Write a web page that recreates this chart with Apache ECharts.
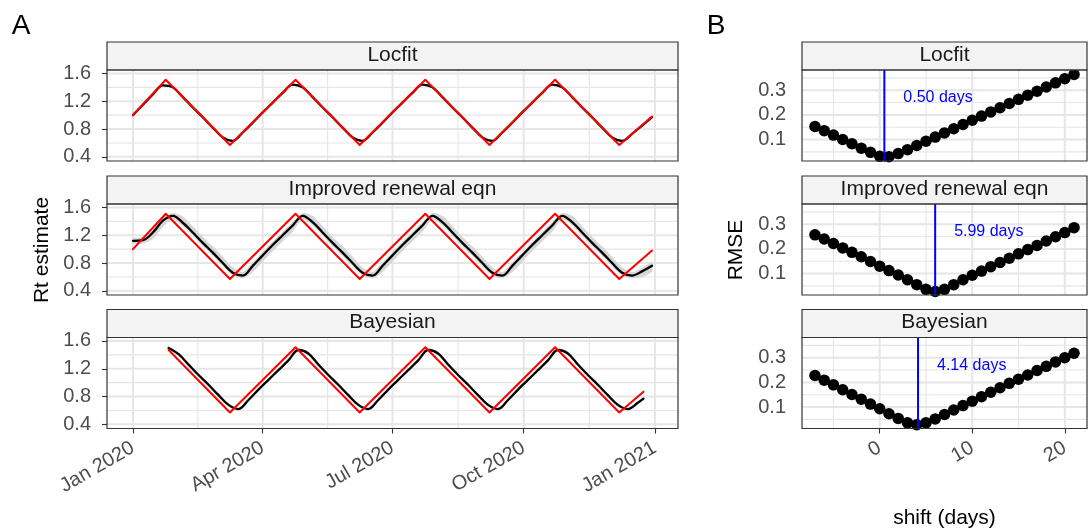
<!DOCTYPE html>
<html>
<head>
<meta charset="utf-8">
<script src="https://cdn.jsdelivr.net/npm/echarts@6/dist/echarts.min.js"></script>
<style>
  html, body { margin: 0; padding: 0; background: #ffffff; }
  #chart { width: 1088px; height: 530px; }
</style>
</head>
<body>
<div id="chart"></div>
<script>
// ---------------- data ----------------
const methods = ['Locfit', 'Improved renewal eqn', 'Bayesian'];

// x-axis breaks of the Rt panels
const quarterTicks = ['2020-01-01', '2020-04-01', '2020-07-01', '2020-10-01', '2021-01-01'];
const quarterLabels = ['Jan 2020', 'Apr 2020', 'Jul 2020', 'Oct 2020', 'Jan 2021'];
const rtTicks = [0.4, 0.8, 1.2, 1.6];

// true Rt (piecewise linear)
const truthDates = ['2020-01-01', '2020-01-24', '2020-03-09', '2020-04-24', '2020-06-08',
                    '2020-07-24', '2020-09-07', '2020-10-23', '2020-12-07', '2020-12-30'];
const truthValues = [1.00, 1.51, 0.57, 1.51, 0.57, 1.51, 0.57, 1.51, 0.57, 0.98];
const truthBayesDates = ['2020-01-26', '2020-03-09', '2020-04-24', '2020-06-08',
                         '2020-07-24', '2020-09-07', '2020-10-23', '2020-12-07', '2020-12-24'];
const truthBayesValues = [1.47, 0.57, 1.51, 0.57, 1.51, 0.57, 1.51, 0.57, 0.87];

// weekly estimates, first report on 2020-01-01
const weeklyStart = '2020-01-01';
const locfitRt = [1.00, 1.15, 1.30, 1.43, 1.40, 1.26, 1.11, 0.97, 0.82, 0.68, 0.63, 0.75, 0.89, 1.04,
                  1.18, 1.32, 1.44, 1.40, 1.26, 1.11, 0.97, 0.82, 0.68, 0.63, 0.75, 0.89, 1.04,
                  1.18, 1.32, 1.44, 1.40, 1.26, 1.11, 0.97, 0.82, 0.68, 0.63, 0.75, 0.89, 1.04,
                  1.18, 1.32, 1.44, 1.40, 1.26, 1.11, 0.97, 0.82, 0.68, 0.63, 0.73, 0.85, 0.97];
const renewalRt = [1.12, 1.13, 1.24, 1.41, 1.48, 1.38, 1.24, 1.09, 0.95, 0.80, 0.66, 0.62, 0.76, 0.91,
                   1.06, 1.20, 1.34, 1.48, 1.39, 1.24, 1.09, 0.95, 0.80, 0.66, 0.62, 0.76, 0.91,
                   1.06, 1.20, 1.34, 1.48, 1.39, 1.24, 1.09, 0.95, 0.80, 0.66, 0.62, 0.76, 0.91,
                   1.06, 1.20, 1.34, 1.48, 1.39, 1.24, 1.09, 0.95, 0.80, 0.66, 0.62, 0.68, 0.76];
const renewalLower = [1.08, 1.08, 1.15, 1.32, 1.43, 1.33, 1.19, 1.04, 0.90, 0.75, 0.62, 0.58, 0.67, 0.82,
                      0.97, 1.11, 1.25, 1.43, 1.34, 1.19, 1.04, 0.90, 0.75, 0.62, 0.58, 0.67, 0.82,
                      0.97, 1.11, 1.25, 1.43, 1.34, 1.19, 1.04, 0.90, 0.75, 0.62, 0.58, 0.67, 0.82,
                      0.97, 1.11, 1.25, 1.43, 1.34, 1.19, 1.04, 0.90, 0.75, 0.62, 0.58, 0.60, 0.68];
const renewalUpper = [1.16, 1.17, 1.29, 1.46, 1.52, 1.47, 1.33, 1.18, 1.04, 0.89, 0.74, 0.67, 0.81, 0.96,
                      1.11, 1.25, 1.39, 1.52, 1.48, 1.33, 1.18, 1.04, 0.89, 0.74, 0.67, 0.81, 0.96,
                      1.11, 1.25, 1.39, 1.52, 1.48, 1.33, 1.18, 1.04, 0.89, 0.74, 0.67, 0.81, 0.96,
                      1.11, 1.25, 1.39, 1.52, 1.48, 1.33, 1.18, 1.04, 0.89, 0.74, 0.67, 0.73, 0.81];

// Bayesian estimates: weekly from 2020-01-26, last one on 2020-12-24
const bayesStart = '2020-01-26';
const bayesEnd = '2020-12-24';
const bayesRt = [1.50, 1.41, 1.26, 1.11, 0.97, 0.82, 0.68, 0.62, 0.75, 0.90,
                 1.04, 1.18, 1.32, 1.47, 1.42, 1.26, 1.11, 0.97, 0.82, 0.68,
                 0.62, 0.75, 0.90, 1.04, 1.18, 1.32, 1.47, 1.42, 1.26, 1.11,
                 0.97, 0.82, 0.68, 0.62, 0.75, 0.90, 1.04, 1.18, 1.32, 1.47,
                 1.42, 1.26, 1.11, 0.97, 0.82, 0.68, 0.62, 0.71, 0.77];
const bayesLower = [1.48, 1.39, 1.24, 1.09, 0.95, 0.80, 0.66, 0.60, 0.73, 0.88,
                    1.02, 1.16, 1.30, 1.45, 1.40, 1.24, 1.09, 0.95, 0.80, 0.66,
                    0.60, 0.73, 0.88, 1.02, 1.16, 1.30, 1.45, 1.40, 1.24, 1.09,
                    0.95, 0.80, 0.66, 0.60, 0.73, 0.88, 1.02, 1.16, 1.30, 1.45,
                    1.40, 1.24, 1.09, 0.95, 0.80, 0.66, 0.60, 0.69, 0.75];
const bayesUpper = [1.52, 1.43, 1.28, 1.13, 0.99, 0.84, 0.70, 0.64, 0.77, 0.92,
                    1.06, 1.20, 1.34, 1.49, 1.44, 1.28, 1.13, 0.99, 0.84, 0.70,
                    0.64, 0.77, 0.92, 1.06, 1.20, 1.34, 1.49, 1.44, 1.28, 1.13,
                    0.99, 0.84, 0.70, 0.64, 0.77, 0.92, 1.06, 1.20, 1.34, 1.49,
                    1.44, 1.28, 1.13, 0.99, 0.84, 0.70, 0.64, 0.73, 0.79];

// RMSE against the truth for each shift of the estimate
const shiftDays = [-7, -6, -5, -4, -3, -2, -1, 0, 1, 2, 3, 4, 5, 6, 7,
                   8, 9, 10, 11, 12, 13, 14, 15, 16, 17, 18, 19, 20, 21];
const rmseLocfit = [0.153, 0.136, 0.118, 0.100, 0.083, 0.065, 0.048, 0.032, 0.030, 0.043, 0.059, 0.076, 0.093, 0.110, 0.127,
                    0.144, 0.161, 0.178, 0.195, 0.212, 0.229, 0.246, 0.263, 0.280, 0.296, 0.313, 0.330, 0.347, 0.364];
const rmseRenewal = [0.257, 0.240, 0.222, 0.204, 0.186, 0.168, 0.149, 0.130, 0.112, 0.094, 0.075, 0.055, 0.036, 0.027, 0.036,
                     0.055, 0.075, 0.093, 0.110, 0.128, 0.145, 0.162, 0.180, 0.197, 0.214, 0.232, 0.249, 0.266, 0.286];
const rmseBayes = [0.228, 0.209, 0.190, 0.170, 0.151, 0.132, 0.112, 0.093, 0.073, 0.054, 0.036, 0.028, 0.036, 0.052, 0.070,
                   0.088, 0.106, 0.124, 0.142, 0.160, 0.178, 0.196, 0.213, 0.230, 0.248, 0.265, 0.283, 0.300, 0.318];
const bestShift = [0.50, 5.99, 4.14];
const shiftTicks = [0, 10, 20];
const rmseTicks = [0.1, 0.2, 0.3];

// ---------------- helpers ----------------
const ts = s => { const [y, m, d] = s.split('-').map(Number); return new Date(y, m - 1, d).getTime(); };
const weekly = (start, n) => {
  const [y, m, d] = start.split('-').map(Number);
  return Array.from({ length: n }, (_, i) => new Date(y, m - 1, d + 7 * i).getTime());
};
const zip = (xs, ys) => xs.map((x, i) => [x, ys[i]]);

const weekDates = weekly(weeklyStart, locfitRt.length);
const bayesDates = weekly(bayesStart, bayesRt.length - 1).concat([ts(bayesEnd)]);
const quarterTs = quarterTicks.map(ts);
const quarterMinor = quarterTs.slice(1).map((t, i) => (t + quarterTs[i]) / 2);
const labelOfQuarter = new Map(quarterTs.map((t, i) => [t, quarterLabels[i]]));

// axis ranges (5% padding around the data, ggplot style)
const dataStart = ts(truthDates[0]);
const dataEnd = ts(truthDates[truthDates.length - 1]);
const padX = (dataEnd - dataStart) * 0.05;
const timeMin = dataStart - padX, timeMax = dataEnd + padX;
const rtMin = 0.34, rtMax = 1.65;
const shiftMin = -8.4, shiftMax = 22.4;
const rmseMin = 0.013, rmseMax = 0.382;
const rtMinor = [0.6, 1.0, 1.4];
const shiftMinor = [-5, 5, 15];
const rmseMinor = [0.05, 0.15, 0.25, 0.35];

// ---------------- layout ----------------
const FONT = '"Liberation Sans", Arial, Helvetica, sans-serif';
const GRID_COLOR = '#E6E6E6';
const leftX = 107, leftW = 571;
const rightX = 802, rightW = 285;
const stripH = 28, panelH = 91;
const stripTops = [42, 176, 309.5];
const panelTops = stripTops.map(t => t + stripH);

const grids = [];
panelTops.forEach(t => grids.push({ left: leftX, top: t, width: leftW, height: panelH, containLabel: false, outerBoundsMode: 'none' }));
panelTops.forEach(t => grids.push({ left: rightX, top: t, width: rightW, height: panelH, containLabel: false, outerBoundsMode: 'none' }));

const tickStyle = { show: true, length: 5, lineStyle: { color: '#333333', width: 1.1 } };
const labelBase = { color: '#4D4D4D', fontSize: 20, fontFamily: FONT };

// dates are plotted as millisecond values on a numeric axis, labelled at the quarter breaks
const xAxes = [], yAxes = [];
for (let r = 0; r < 3; r++) {
  const bottom = r === 2;
  xAxes.push({
    type: 'value', gridIndex: r, min: timeMin, max: timeMax, scale: true,
    axisLine: { show: false }, splitLine: { show: false },
    axisTick: Object.assign({}, tickStyle, { show: bottom, customValues: quarterTs }),
    axisLabel: Object.assign({}, labelBase, {
      show: bottom, rotate: 30, margin: 18, customValues: quarterTs,
      formatter: v => labelOfQuarter.get(v) || ''
    })
  });
  yAxes.push({
    type: 'value', gridIndex: r, min: rtMin, max: rtMax,
    axisLine: { show: false }, splitLine: { show: false },
    axisTick: Object.assign({}, tickStyle, { customValues: rtTicks }),
    axisLabel: Object.assign({}, labelBase, { margin: 16, customValues: rtTicks, formatter: v => v.toFixed(1) })
  });
}
for (let r = 0; r < 3; r++) {
  const bottom = r === 2;
  xAxes.push({
    type: 'value', gridIndex: 3 + r, min: shiftMin, max: shiftMax,
    axisLine: { show: false }, splitLine: { show: false },
    axisTick: Object.assign({}, tickStyle, { show: bottom, customValues: shiftTicks }),
    axisLabel: Object.assign({}, labelBase, { show: bottom, rotate: 30, margin: 18, customValues: shiftTicks, formatter: v => String(v) })
  });
  yAxes.push({
    type: 'value', gridIndex: 3 + r, min: rmseMin, max: rmseMax,
    axisLine: { show: false }, splitLine: { show: false },
    axisTick: Object.assign({}, tickStyle, { customValues: rmseTicks }),
    axisLabel: Object.assign({}, labelBase, { margin: 16, customValues: rmseTicks, formatter: v => v.toFixed(1) })
  });
}

// panel grid lines, drawn through the axis scales
function gridLayer(idx, xMajor, xMinor, yMajor, yMinor, anchor) {
  return {
    type: 'custom', xAxisIndex: idx, yAxisIndex: idx, z: 1, silent: true,
    data: [anchor],
    renderItem(params, api) {
      const cs = params.coordSys;
      const kids = [];
      const v = (val, w) => {
        const x = api.coord([val, anchor[1]])[0];
        kids.push({ type: 'line', shape: { x1: x, y1: cs.y, x2: x, y2: cs.y + cs.height }, style: { stroke: GRID_COLOR, lineWidth: w } });
      };
      const h = (val, w) => {
        const y = api.coord([anchor[0], val])[1];
        kids.push({ type: 'line', shape: { x1: cs.x, y1: y, x2: cs.x + cs.width, y2: y }, style: { stroke: GRID_COLOR, lineWidth: w } });
      };
      xMinor.forEach(a => v(a, 1.1));
      yMinor.forEach(a => h(a, 1.1));
      xMajor.forEach(a => v(a, 2));
      yMajor.forEach(a => h(a, 2));
      return { type: 'group', children: kids };
    }
  };
}

// uncertainty band as a filled polygon
function ribbon(idx, dates, lo, hi) {
  return {
    type: 'custom', xAxisIndex: idx, yAxisIndex: idx, z: 2, silent: true,
    data: [[dates[0], lo[0]]],
    renderItem(params, api) {
      const pts = [];
      dates.forEach((d, i) => pts.push(api.coord([d, hi[i]])));
      for (let i = dates.length - 1; i >= 0; i--) pts.push(api.coord([dates[i], lo[i]]));
      return { type: 'polygon', shape: { points: pts, smooth: 0.25 }, style: { fill: '#D6D6D6', opacity: 1 } };
    }
  };
}

function lineSeries(idx, data, color, width, z, smooth) {
  return {
    type: 'line', xAxisIndex: idx, yAxisIndex: idx, data, z, smooth,
    symbol: 'none', silent: true, animation: false,
    lineStyle: { color, width, cap: 'round', join: 'round' }, itemStyle: { color }
  };
}

const series = [];
const estimates = [
  { dates: weekDates, rt: locfitRt, truthX: truthDates, truthY: truthValues },
  { dates: weekDates, rt: renewalRt, lo: renewalLower, hi: renewalUpper, truthX: truthDates, truthY: truthValues },
  { dates: bayesDates, rt: bayesRt, lo: bayesLower, hi: bayesUpper, truthX: truthBayesDates, truthY: truthBayesValues }
];
estimates.forEach((e, r) => {
  series.push(gridLayer(r, quarterTs, quarterMinor, rtTicks, rtMinor, [quarterTs[0], rtTicks[0]]));
  if (e.lo) series.push(ribbon(r, e.dates, e.lo, e.hi));
  series.push(lineSeries(r, zip(e.dates, e.rt), '#000000', 2.3, 3, 0.35));
  series.push(lineSeries(r, zip(e.truthX.map(ts), e.truthY), '#FF0000', 2, 4, false));
});

const rmseSets = [rmseLocfit, rmseRenewal, rmseBayes];
rmseSets.forEach((vals, r) => {
  const idx = 3 + r;
  series.push(gridLayer(idx, shiftTicks, shiftMinor, rmseTicks, rmseMinor, [shiftTicks[0], rmseTicks[0]]));
  series.push({
    type: 'line', xAxisIndex: idx, yAxisIndex: idx, z: 3, silent: true, animation: false,
    data: zip(shiftDays, vals), symbol: 'circle', symbolSize: 11.5, showSymbol: true, showAllSymbol: true,
    lineStyle: { color: '#000000', width: 2 }, itemStyle: { color: '#000000' }
  });
  const best = bestShift[r];
  series.push(lineSeries(idx, [[best, rmseMin], [best, rmseMax]], '#0000FF', 2, 5, false));
  series.push({
    type: 'custom', xAxisIndex: idx, yAxisIndex: idx, z: 6, silent: true,
    data: [[best + 5.8, 0.27]],
    renderItem(params, api) {
      const p = api.coord([api.value(0), api.value(1)]);
      return {
        type: 'text', x: p[0], y: p[1],
        style: { text: best.toFixed(2) + ' days', fill: '#0000FF', font: '16px ' + FONT,
                 align: 'center', verticalAlign: 'middle', textAlign: 'center', textVerticalAlign: 'middle' }
      };
    }
  });
});

// strips, panel borders and titles
const graphics = [];
const txt = (text, x, y, size, color, extra) => Object.assign({
  type: 'text', x, y, z: 100,
  style: { text, fill: color, font: size + 'px ' + FONT, align: 'center', verticalAlign: 'middle',
           textAlign: 'center', textVerticalAlign: 'middle' }
}, extra || {});
[[leftX, leftW], [rightX, rightW]].forEach(([x0, w]) => {
  stripTops.forEach((t, r) => {
    graphics.push({ type: 'rect', z: 90, shape: { x: x0, y: t, width: w, height: stripH },
                    style: { fill: '#F3F3F3', stroke: '#333333', lineWidth: 1.2 } });
    graphics.push(txt(methods[r], x0 + w / 2, t + stripH / 2 - 1, 21, '#1A1A1A'));
    graphics.push({ type: 'rect', z: 90, shape: { x: x0, y: panelTops[r], width: w, height: panelH },
                    style: { fill: 'none', stroke: '#333333', lineWidth: 1.2 } });
  });
});
graphics.push(txt('A', 21, 26, 28, '#000000'));
graphics.push(txt('B', 716, 26, 28, '#000000'));
graphics.push(txt('Rt estimate', 42, 250, 21, '#000000', { rotation: Math.PI / 2 }));
graphics.push(txt('RMSE', 736, 250, 21, '#000000', { rotation: Math.PI / 2 }));
graphics.push(txt('shift (days)', rightX + rightW / 2, 518, 21, '#000000'));

const chart = echarts.init(document.getElementById('chart'), null, { renderer: 'canvas' });
chart.setOption({
  animation: false,
  backgroundColor: '#ffffff',
  grid: grids,
  xAxis: xAxes,
  yAxis: yAxes,
  series,
  graphic: { elements: graphics }
});
</script>
</body>
</html>
